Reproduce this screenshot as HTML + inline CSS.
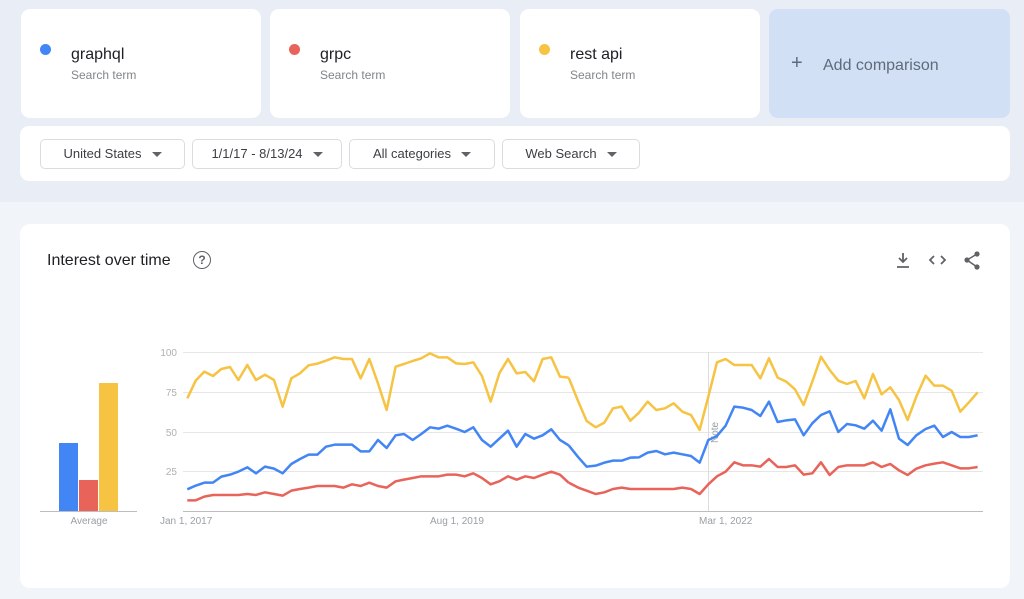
<!DOCTYPE html>
<html><head><meta charset="utf-8"><style>
*{margin:0;padding:0;box-sizing:border-box}
body{width:1024px;height:599px;overflow:hidden;background:#f1f4f9;font-family:"Liberation Sans",Arial,sans-serif;position:relative}
.top{position:absolute;left:0;top:0;width:1024px;height:202px;background:#e8edf6}
.card{position:absolute;top:9px;height:109px;width:240px;background:#fff;border-radius:9px}
.dot{position:absolute;left:19px;top:35px;width:11px;height:11px;border-radius:50%}
.term{position:absolute;left:50px;top:37px;font-size:16px;color:#202124}
.sub{position:absolute;left:50px;top:59px;font-size:12px;color:#80868b}
.add{position:absolute;left:769px;top:9px;width:241px;height:109px;background:#d2e0f5;border-radius:9px;color:#5f6b7a;font-size:16px}
.bar{position:absolute;left:20px;top:126px;width:990px;height:55px;background:#fff;border-radius:9px}
.dd{position:absolute;top:13px;height:30px;border:1px solid #dadce0;border-radius:5px;font-size:13px;color:#3c4043;text-align:center;line-height:28px}
.dd:after{content:"";display:inline-block;margin-left:10px;border-left:5px solid transparent;border-right:5px solid transparent;border-top:5px solid #5f6368;vertical-align:middle}
.panel{position:absolute;left:20px;top:224px;width:990px;height:364px;background:#fff;border-radius:10px}
</style></head><body>
<div class="top"></div>
<div class="card" style="left:21px"><div class="dot" style="background:#4285f4"></div><div class="term">graphql</div><div class="sub">Search term</div></div>
<div class="card" style="left:270px"><div class="dot" style="background:#e8635a"></div><div class="term">grpc</div><div class="sub">Search term</div></div>
<div class="card" style="left:520px"><div class="dot" style="background:#f6c342"></div><div class="term">rest api</div><div class="sub">Search term</div></div>
<div class="add"><span style="position:absolute;left:22px;top:44px;font-size:20px;line-height:20px">+</span><span style="position:absolute;left:54px;top:48px">Add comparison</span></div>
<div class="bar">
<div class="dd" style="left:20px;width:145px">United States</div>
<div class="dd" style="left:172px;width:150px">1/1/17 - 8/13/24</div>
<div class="dd" style="left:329px;width:146px">All categories</div>
<div class="dd" style="left:482px;width:138px">Web Search</div>
</div>
<div class="panel"></div>
<div style="position:absolute;left:47px;top:252px;font-size:16px;color:#202124">Interest over time</div>
<div style="position:absolute;left:193px;top:251px;width:18px;height:18px;border:1.5px solid #5f6368;border-radius:50%;font-size:12px;color:#5f6368;text-align:center;line-height:16px;font-weight:bold">?</div>
<svg style="position:absolute;left:0;top:0" width="1024" height="599">
<g stroke="#5f6368" stroke-width="1.8" fill="none">
<path d="M903 253v9M899 258l4 4 4-4M897 267h12"/>
<path d="M934 256l-4 4 4 4M941 256l4 4-4 4"/>
</g>
<g fill="#5f6368"><circle cx="977" cy="254" r="2.6"/><circle cx="967" cy="260" r="2.6"/><circle cx="977" cy="267" r="2.6"/></g>
<path d="M977 254L967 260L977 267" stroke="#5f6368" stroke-width="1.5" fill="none"/>
<g stroke="#e6e6e6" stroke-width="1"><path d="M183 352.5H983M183 392.5H983M183 432.5H983M183 471.5H983"/></g>
<path d="M183 511.5H983M40 511.5H137" stroke="#bdbdbd" stroke-width="1"/>
<path d="M708.5 352V511" stroke="#ddd"/>
<g font-size="10" fill="#b0b0b0" text-anchor="end"><text x="177" y="356">100</text><text x="177" y="396">75</text><text x="177" y="436">50</text><text x="177" y="475">25</text></g>
<g font-size="10" fill="#9aa0a6"><text x="160" y="524">Jan 1, 2017</text><text x="430" y="524">Aug 1, 2019</text><text x="699" y="524">Mar 1, 2022</text><text x="89" y="524" text-anchor="middle">Average</text></g>
<text x="0" y="0" font-size="10" fill="#9aa0a6" transform="translate(718,443) rotate(-90)">Note</text>
<rect x="59" y="443" width="19" height="68" fill="#4285f4"/><rect x="79" y="480" width="19" height="31" fill="#e8635a"/><rect x="99" y="383" width="19" height="128" fill="#f6c342"/>
<g fill="none" stroke-width="7.5" stroke-linejoin="round">
<g transform="translate(150,340) scale(0.3333)">
<polyline stroke="#f6c342" points="112,175 137,122 163,95 189,108 214,87 240,81 265,120 292,75 318,120 345,104 372,120 398,200 424,115 450,100 476,76 502,71 528,62 554,52 580,57 606,57 632,115 658,57 684,130 710,210 737,80 762,72 788,63 814,55 840,40 866,52 892,52 918,70 944,72 970,67 996,108 1022,185 1048,100 1074,57 1100,100 1126,96 1152,124 1178,57 1204,52 1230,110 1256,113"/>
<polyline stroke="#4285f4" points="112,448 137,437 163,428 189,428 214,410 240,404 265,395 292,382 318,400 345,380 372,386 398,400 424,372 450,357 476,344 502,344 528,320 554,314 580,314 606,314 632,334 658,334 684,300 710,324 737,286 762,282 788,300 814,282 840,262 866,266 892,257 918,266 944,276 970,262 996,300 1022,320 1048,296 1074,272 1100,320 1126,282 1152,296 1178,286 1204,268 1230,300 1256,316"/>
<polyline stroke="#e8635a" points="112,481 137,481 163,470 189,465 214,465 240,465 265,465 292,462 318,465 345,457 372,462 398,467 424,452 450,447 476,443 502,438 528,438 554,438 580,443 606,433 632,438 658,428 684,438 710,443 737,424 762,419 788,414 814,409 840,409 866,409 892,404 918,404 944,409 970,400 996,414 1022,433 1048,424 1074,409 1100,419 1126,409 1152,414 1178,404 1204,395 1230,404 1256,428"/>
</g>
<g transform="translate(570,340) scale(0.3333)">
<polyline stroke="#f6c342" points="-4,113 25,185 50,243 77,262 103,248 129,205 155,200 181,242 207,218 233,185 259,210 285,205 311,190 337,215 363,225 389,270 415,170 441,67 467,57 493,75 519,75 545,75 571,115 597,55 623,113 649,125 675,148 701,195 727,125 753,50 779,90 805,122 831,132 857,123 883,175 909,102 935,163 961,142 987,180 1013,240 1039,170 1067,107 1093,137 1119,137 1145,152 1171,215 1197,187 1223,157"/>
<polyline stroke="#4285f4" points="-4,316 25,352 50,380 77,377 103,368 129,362 155,362 181,353 207,352 233,338 259,333 285,343 311,338 337,343 363,348 389,368 415,300 441,288 467,257 493,200 519,203 545,210 571,228 597,185 623,246 649,241 675,238 701,286 727,250 753,225 779,214 805,276 831,252 857,256 883,266 909,242 935,272 961,208 987,296 1013,315 1039,286 1067,267 1093,257 1119,291 1145,276 1171,291 1197,291 1223,286"/>
<polyline stroke="#e8635a" points="-4,428 25,443 50,452 77,462 103,457 129,447 155,443 181,447 207,447 233,447 259,447 285,447 311,447 337,443 363,447 389,462 415,433 441,409 467,395 493,367 519,376 545,376 571,380 597,357 623,381 649,381 675,376 701,404 727,400 753,367 779,405 805,381 831,376 857,376 883,376 909,367 935,381 961,372 987,391 1013,405 1039,386 1067,376 1093,371 1119,367 1145,376 1171,385 1197,385 1223,381"/>
</g>
</g>
</svg>
</body></html>
